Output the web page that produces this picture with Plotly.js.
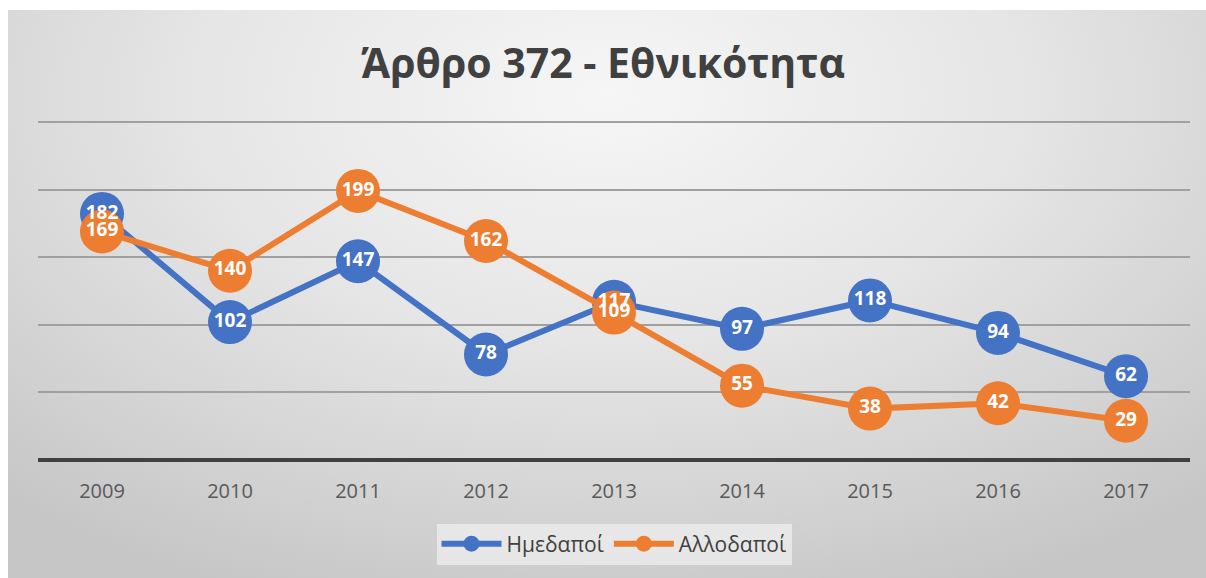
<!DOCTYPE html>
<html>
<head>
<meta charset="utf-8">
<script src="https://cdn.plot.ly/plotly-3.0.1.min.js"></script>
<style>
  html, body { margin: 0; padding: 0; background: #ffffff; width: 1206px; height: 578px; overflow: hidden; }
  #bg { position: absolute; left: 8px; top: 10px; width: 1198px; height: 568px;
        background: radial-gradient(ellipse 75% 95% at 50% 15%, #f6f6f6 0%, #e6e6e6 45%, #d2d2d2 80%, #c6c6c6 100%); }
  #chart { position: absolute; left: 0; top: 0; width: 1206px; height: 578px; }
</style>
</head>
<body>
<div id="bg"></div>
<div id="chart"></div>
<script>
const years = ['2009','2010','2011','2012','2013','2014','2015','2016','2017'];
const imedapoi = [182, 102, 147, 78, 117, 97, 118, 94, 62];
const allodapoi = [169, 140, 199, 162, 109, 55, 38, 42, 29];
const chartTitle = 'Άρθρο 372 - Εθνικότητα';
const seriesNames = ['Ημεδαποί', 'Αλλοδαποί'];

const labelFont = { family: 'Open Sans, sans-serif', size: 19, color: '#ffffff', weight: 'bold' };

function series(name, values, color) {
  return {
    type: 'scatter',
    mode: 'lines+markers',
    name: name,
    x: years,
    y: values,
    line: { color: color, width: 6 },
    marker: { color: color, size: 44 },
    cliponaxis: false,
    hoverinfo: 'skip'
  };
}
function labels(values) {
  return {
    type: 'scatter',
    mode: 'text',
    x: years,
    y: values,
    text: values.map(String),
    textposition: 'middle center',
    textfont: labelFont,
    showlegend: false,
    cliponaxis: false,
    hoverinfo: 'skip'
  };
}

const data = [
  series(seriesNames[0], imedapoi, '#4472C4'),
  series(seriesNames[1], allodapoi, '#ED7D31'),
  labels(imedapoi),
  labels(allodapoi)
];

const layout = {
  width: 1206,
  height: 578,
  paper_bgcolor: 'rgba(0,0,0,0)',
  plot_bgcolor: 'rgba(0,0,0,0)',
  margin: { l: 38, r: 16, t: 119, b: 118 },
  title: {
    text: '<b>' + chartTitle + '</b>',
    font: { family: 'Open Sans, sans-serif', size: 41, color: '#404040' },
    x: 0.5, xanchor: 'center',
    y: 1 - 64 / 578, yanchor: 'middle', yref: 'container'
  },
  xaxis: {
    type: 'category',
    range: [-0.5, 8.5],
    showgrid: false,
    zeroline: false,
    showline: false,
    ticks: '',
    tickfont: { family: 'Open Sans, sans-serif', size: 20, color: '#595959' },
    ticklabelstandoff: 17,
    fixedrange: true
  },
  yaxis: {
    range: [0, 252.2],
    tick0: 0, dtick: 50,
    showticklabels: false,
    showgrid: true,
    gridcolor: '#a0a0a0',
    gridwidth: 2,
    zeroline: true,
    zerolinecolor: '#404040',
    zerolinewidth: 4,
    showline: false,
    ticks: '',
    fixedrange: true
  },
  showlegend: true,
  legend: {
    orientation: 'h',
    x: 0.5, xanchor: 'center',
    y: 1 - 544 / 578, yanchor: 'middle', yref: 'container',
    bgcolor: 'rgba(236,236,236,0.8)',
    font: { family: 'Open Sans, sans-serif', size: 21, color: '#404040' },
    itemsizing: 'trace',
    itemwidth: 60,
    tracegroupgap: 0
  }
};

Plotly.newPlot('chart', data, layout, { displayModeBar: false, staticPlot: true });
</script>
</body>
</html>
